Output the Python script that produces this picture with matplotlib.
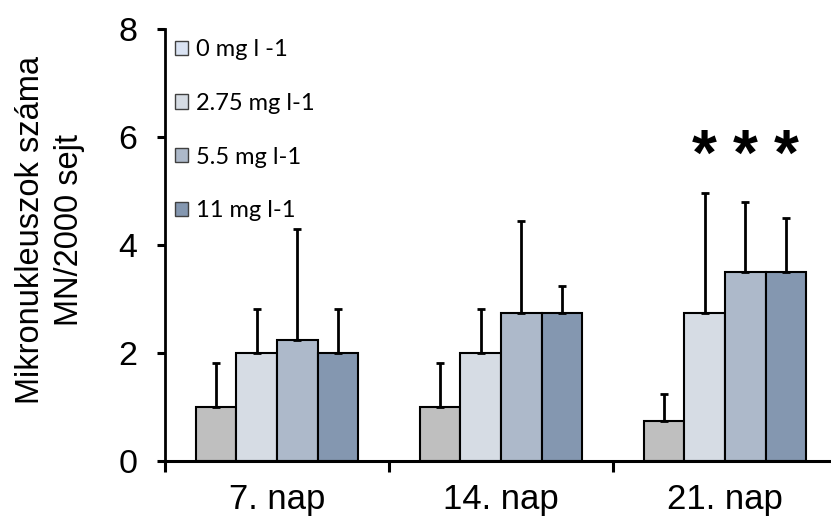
import numpy as np
import matplotlib
matplotlib.use("Agg")
import matplotlib.pyplot as plt
from matplotlib.patches import Patch

# adatok
napok = ["7. nap", "14. nap", "21. nap"]
csoportok = ["0 mg l -1", "2.75 mg l-1", "5.5 mg l-1", "11 mg l-1"]
atlag = [
    [1.0, 1.0, 0.75],    # 0 mg l-1
    [2.0, 2.0, 2.75],    # 2.75 mg l-1
    [2.25, 2.75, 3.5],   # 5.5 mg l-1
    [2.0, 2.75, 3.5],    # 11 mg l-1
]
szoras = [
    [0.82, 0.82, 0.5],
    [0.82, 0.82, 2.22],
    [2.05, 1.7, 1.3],
    [0.82, 0.5, 1.0],
]
szignifikans = [(2, 1), (2, 2), (2, 3)]  # (nap index, csoport index)

bar_colors = ["#BFBFBF", "#D6DCE4", "#ADB9CA", "#8497B0"]
legend_colors = ["#DAE3F3", "#D6DCE4", "#ADB9CA", "#8497B0"]

plt.rcParams['font.family'] = ['Liberation Sans', 'DejaVu Sans']

fig = plt.figure(figsize=(8.31, 5.21), dpi=100)
W, H = 831, 521
ax = fig.add_axes([165 / W, 60 / H, 666 / W, 432 / H])

x = np.arange(len(napok))
w = 0.181
for k in range(len(csoportok)):
    ax.bar(x + (k - 1.5) * w, atlag[k], w, color=bar_colors[k],
           edgecolor="black", linewidth=1.5,
           yerr=[np.zeros(len(napok)), szoras[k]],
           error_kw=dict(elinewidth=2.0, capsize=3.2, capthick=2.0, ecolor="black"),
           zorder=2)

# csillagok
for i, k in szignifikans:
    ax.text(i + (k - 1.5) * w, 5.3, "*", ha="center", va="baseline",
            fontsize=46, fontweight="bold")

ax.set_xlim(-0.5, -0.5 + 666 / 224)
ax.set_ylim(0, 8)
ax.set_yticks([0, 2, 4, 6, 8])
ax.set_xticks(x)
ax.set_xticklabels(napok)
ax.set_xticks([-0.5, 0.5, 1.5], minor=True)
ax.tick_params(axis="x", which="major", length=0, pad=16, labelsize=25)
ax.tick_params(axis="x", which="minor", length=8, width=2.2, direction="out")
ax.tick_params(axis="y", length=6, width=2.2, direction="out", pad=14, labelsize=24.5)

for s in ["top", "right"]:
    ax.spines[s].set_visible(False)
ax.spines["left"].set_linewidth(2.0)
ax.spines["bottom"].set_linewidth(2.2)

fig.text(50 / W, 1 - 230 / H, "Mikronukleuszok száma\nMN/2000 sejt", rotation=90,
         ha="center", va="center", multialignment="center", fontsize=23.5,
         linespacing=1.3)

handles = [Patch(facecolor=c, edgecolor="#404040", linewidth=1) for c in legend_colors]
ax.legend(handles, csoportok, loc="upper left", bbox_to_anchor=(10 / 666, 1 - 10 / 432),
          frameon=False, borderpad=0, borderaxespad=0, handlelength=0.55,
          handleheight=0.55, handletextpad=0.35, labelspacing=1.39,
          prop={"family": "Lato", "size": 17})

fig.savefig("out.png", dpi=100)
